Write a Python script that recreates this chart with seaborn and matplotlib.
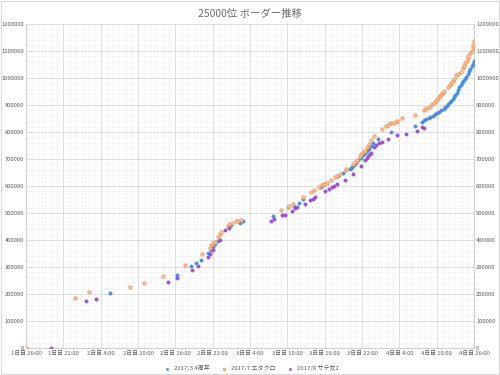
import matplotlib
matplotlib.use('Agg')
import matplotlib.pyplot as plt
from matplotlib.ticker import MultipleLocator
from matplotlib.patches import Rectangle
import seaborn as sns
import pandas as pd

# 経過時間 (1日目 16:00 からの時間) とボーダー
hours_4th = [13.5, 24.2, 26.5, 27.4, 28.1, 29.3, 29.7, 30.1, 30.4, 30.8, 33.0, 34.4, 34.8,
             39.7, 43.0, 43.8, 44.5, 47.4, 47.7, 50.2, 51.0, 52.0, 52.2, 52.4, 52.7, 53.0,
             53.4, 53.8, 54.2, 54.5, 54.8, 55.1, 55.4, 55.8, 56.6, 58.7, 62.5, 63.6, 64.0,
             64.3, 64.7, 65.0, 65.4, 65.7, 66.1, 66.4, 66.7, 67.1, 67.3, 67.6, 67.9, 68.1,
             68.3, 68.6, 68.8, 69.0, 69.2, 69.4, 69.6, 69.9, 70.1, 70.3, 70.5, 70.7, 71.0,
             71.2, 71.4, 71.7, 71.8, 72.0]
border_4th = [202000, 272000, 302000, 316000, 327000, 353000, 363000, 375000, 385000, 395000,
              454000, 464000, 469000, 488000, 527000, 538000, 551000, 596000, 603000, 636000,
              647000, 663000, 667000, 672000, 678000, 686000, 696000, 704000, 714000, 721000,
              731000, 737000, 748000, 760000, 773000, 800000, 823000, 837000, 843000, 847000,
              852000, 857000, 860000, 866000, 870000, 875000, 882000, 886000, 892000, 897000,
              904000, 910000, 916000, 923000, 931000, 937000, 946000, 956000, 966000, 975000,
              983000, 990000, 998000, 1005000, 1015000, 1025000, 1035000, 1043000, 1052000,
              1064000]

hours_etc = [0.0, 7.9, 10.2, 16.7, 19.0, 22.0, 25.5, 28.3, 29.5, 29.8, 30.1, 30.4, 30.9,
             31.2, 31.4, 32.4, 32.7, 33.1, 33.7, 34.0, 34.6, 41.0, 42.1, 42.3, 42.9, 44.5,
             45.8, 46.3, 47.1, 47.6, 47.9, 48.3, 49.0, 49.7, 50.0, 50.4, 51.4, 51.5, 52.5,
             52.9, 53.2, 53.7, 53.9, 54.2, 54.5, 54.8, 55.2, 55.5, 55.9, 57.2, 57.9, 58.2,
             58.5, 59.0, 59.5, 59.7, 60.4, 62.5, 63.9, 64.2, 64.5, 64.9, 65.2, 65.5, 65.9,
             66.1, 66.3, 66.5, 66.7, 67.0, 67.2, 67.9, 68.1, 68.3, 68.6, 68.8, 69.1, 69.5,
             69.9, 70.2, 70.4, 70.5, 70.8, 71.0, 71.1, 71.4, 71.6, 71.8, 71.9, 72.0]
border_etc = [0, 184000, 207000, 225000, 240000, 265000, 306000, 347000, 370000, 381000,
              390000, 394000, 412000, 421000, 428000, 453000, 459000, 464000, 469000, 470000,
              474000, 510000, 523000, 526000, 533000, 558000, 578000, 585000, 597000, 604000,
              607000, 612000, 622000, 633000, 637000, 646000, 658000, 662000, 680000, 688000,
              697000, 712000, 720000, 725000, 731000, 743000, 757000, 770000, 786000, 812000,
              822000, 827000, 832000, 834000, 838000, 841000, 851000, 863000, 880000, 885000,
              889000, 894000, 904000, 909000, 916000, 923000, 929000, 933000, 940000, 946000,
              951000, 966000, 975000, 983000, 990000, 998000, 1010000, 1015000, 1023000,
              1036000, 1046000, 1055000, 1064000, 1073000, 1082000, 1094000, 1101000, 1114000,
              1123000, 1138000]

hours_sat = [4.0, 9.6, 11.2, 22.8, 24.3, 26.6, 27.6, 29.3, 29.5, 30.0, 31.2, 32.0, 32.7,
             39.3, 39.9, 41.2, 41.6, 42.7, 43.3, 43.5, 44.8, 45.7, 46.2, 46.4, 48.0, 48.7,
             49.2, 49.5, 50.0, 51.3, 52.6, 53.8, 54.5, 54.8, 55.0, 55.3, 55.5, 55.9, 56.2,
             56.7, 57.2, 58.1, 59.7, 61.0, 62.9, 63.7, 63.9]
border_sat = [0, 173000, 181000, 244000, 260000, 289000, 304000, 338000, 347000, 362000,
              400000, 436000, 444000, 472000, 479000, 492000, 494000, 507000, 517000, 521000,
              534000, 548000, 553000, 558000, 582000, 590000, 595000, 599000, 606000, 622000,
              646000, 675000, 696000, 705000, 711000, 717000, 723000, 745000, 751000, 758000,
              763000, 773000, 788000, 794000, 805000, 820000, 816000]

series_names = ['2017/3 4周年', '2017/7 エタクロ', '2017/8 サテ女2']
xtick_labels = ['1日目 16:00', '1日目 22:00', '2日目 4:00', '2日目 10:00', '2日目 16:00',
                '2日目 22:00', '3日目 4:00', '3日目 10:00', '3日目 16:00', '3日目 22:00',
                '4日目 4:00', '4日目 10:00', '4日目 16:00']

sns.set_style('white')
plt.rcParams['font.family'] = ['Noto Sans CJK JP', 'DejaVu Sans']

fig = plt.figure(figsize=(5, 3.75), dpi=100)
ax = fig.add_axes([0.052, 0.072, 0.896, 0.864])

df_4th = pd.DataFrame({'h': hours_4th, 'v': border_4th})
df_etc = pd.DataFrame({'h': hours_etc, 'v': border_etc})
df_sat = pd.DataFrame({'h': hours_sat, 'v': border_sat})

sns.scatterplot(x='h', y='v', data=df_4th, ax=ax, s=6, color='#4a8fd8',
                edgecolor='#4a8fd8', linewidth=0.3, label=series_names[0], zorder=3)
sns.scatterplot(x='h', y='v', data=df_etc, ax=ax, s=6, color='#f7c9a6',
                edgecolor='#ee8a4a', linewidth=0.5, label=series_names[1], zorder=3)
sns.scatterplot(x='h', y='v', data=df_sat, ax=ax, s=6, color='#9a50cf',
                edgecolor='#9a50cf', linewidth=0.3, label=series_names[2], zorder=3)

ax.set_xlim(0, 72)
ax.set_ylim(0, 1200000)
ax.set_xticks(range(0, 73, 6))
ax.set_xticklabels(xtick_labels)
ax.xaxis.set_minor_locator(MultipleLocator(1))
ax.yaxis.set_major_locator(MultipleLocator(100000))
ax.yaxis.set_minor_locator(MultipleLocator(20000))
ax.ticklabel_format(axis='y', style='plain')
ax.grid(which='major', color='#dcdcdc', linewidth=0.7)
ax.grid(which='minor', color='#f1f1f1', linewidth=0.5)
ax.set_axisbelow(True)
ax.tick_params(which='both', length=0, labelsize=4.2, labelcolor='#595959',
               labelright=True)
ax.tick_params(axis='x', pad=2.5)
ax.tick_params(axis='y', pad=1.5)
ax.set_xlabel('')
ax.set_ylabel('')
for side in ['left', 'right', 'bottom']:
    ax.spines[side].set_color('#d0d0d0')
    ax.spines[side].set_linewidth(0.8)
ax.spines['top'].set_visible(False)

ax.set_title('25000位 ボーダー推移', fontsize=7.5, color='#6a6a6a', pad=5)
ax.legend(loc='upper center', bbox_to_anchor=(0.5, -0.035), ncol=3, frameon=False,
          fontsize=4.3, labelcolor='#595959', handletextpad=0.1, columnspacing=1.5,
          markerscale=0.7)

fig.patches.append(Rectangle((0.002, 0.003), 0.996, 0.994, transform=fig.transFigure,
                             fill=False, edgecolor='#d9d9d9', linewidth=0.8))

plt.savefig('out.png', dpi=100)
